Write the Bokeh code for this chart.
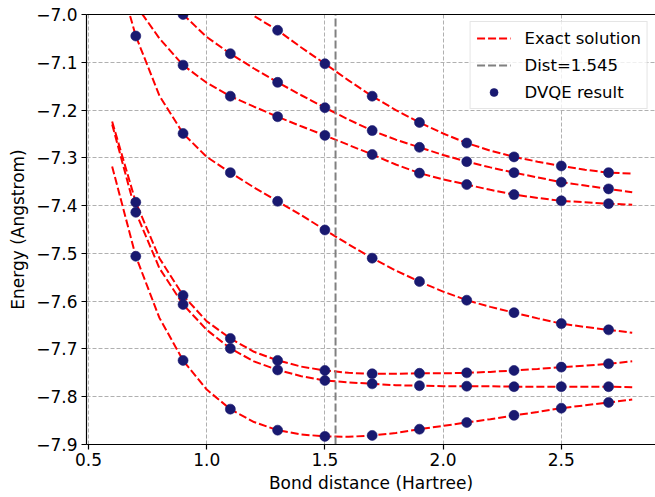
from bokeh.plotting import figure
from bokeh.models import Range1d, FixedTicker, LinearAxis, Legend, LegendItem
from bokeh.embed import file_html
from bokeh.resources import INLINE

NaN = float("nan")

# ---- data -------------------------------------------------------------
x_exact = [0.6, 0.7, 0.8, 0.9, 1.0, 1.1, 1.2, 1.3, 1.4, 1.5, 1.6, 1.7,
           1.8, 1.9, 2.0, 2.1, 2.2, 2.3, 2.4, 2.5, 2.6, 2.7, 2.8]

exact_s0 = [-7.318, -7.506, -7.635, -7.724, -7.785, -7.826, -7.853, -7.870,
            -7.879, -7.883, -7.884, -7.881, -7.876, -7.868, -7.861, -7.854,
            -7.847, -7.839, -7.832, -7.824, -7.818, -7.812, -7.806]
exact_s1 = [-7.224, -7.393, -7.510, -7.588, -7.642, -7.678, -7.706, -7.724,
            -7.737, -7.745, -7.750, -7.752, -7.752, -7.751, -7.751, -7.750,
            -7.748, -7.745, -7.742, -7.738, -7.735, -7.731, -7.726]
exact_s2 = [-7.230, -7.414, -7.531, -7.607, -7.660, -7.699, -7.726, -7.744,
            -7.757, -7.766, -7.770, -7.773, -7.776, -7.777, -7.778, -7.778,
            -7.778, -7.779, -7.779, -7.779, -7.779, -7.779, -7.780]
exact_s3 = [-6.870, -7.045, -7.170, -7.249, -7.298, -7.331, -7.362, -7.391,
            -7.420, -7.451, -7.481, -7.510, -7.536, -7.559, -7.580, -7.598,
            -7.612, -7.624, -7.636, -7.647, -7.654, -7.660, -7.666]
exact_s4 = [-6.850, -6.980, -7.050, -7.106, -7.143, -7.171, -7.193, -7.214,
            -7.234, -7.253, -7.273, -7.293, -7.314, -7.332, -7.345, -7.356,
            -7.367, -7.377, -7.384, -7.390, -7.393, -7.396, -7.398]
exact_s5 = [-6.740, -6.840, -6.930, -7.000, -7.047, -7.082, -7.113, -7.142,
            -7.169, -7.195, -7.220, -7.243, -7.262, -7.278, -7.294, -7.308,
            -7.320, -7.331, -7.341, -7.351, -7.358, -7.365, -7.372]
exact_s6 = [-6.600, -6.690, -6.780, -6.850, -6.910, -6.962, -7.003, -7.033,
            -7.069, -7.103, -7.138, -7.171, -7.200, -7.226, -7.249, -7.269,
            -7.285, -7.298, -7.308, -7.317, -7.325, -7.331, -7.333]

x_dvqe = [0.7, 0.9, 1.1, 1.3, 1.5, 1.7, 1.9, 2.1, 2.3, 2.5, 2.7]
dvqe_s0 = [-7.506, -7.724, -7.826, -7.870, -7.883, -7.881, -7.868, -7.854, -7.839, -7.824, -7.812]
dvqe_s1 = [-7.393, -7.588, -7.678, -7.724, -7.745, -7.752, -7.751, -7.750, -7.745, -7.738, -7.731]
dvqe_s2 = [-7.414, -7.607, -7.699, -7.744, -7.766, -7.773, -7.777, -7.778, -7.779, -7.779, -7.779]
dvqe_s3 = [-7.045, -7.249, -7.331, -7.391, -7.451, -7.510, -7.559, -7.598, -7.624, -7.647, -7.660]
dvqe_s4 = [NaN, -7.106, -7.171, -7.214, -7.253, -7.293, -7.332, -7.356, -7.377, -7.390, -7.396]
dvqe_s5 = [NaN, -7.000, -7.082, -7.142, -7.195, -7.243, -7.278, -7.308, -7.331, -7.351, -7.365]
dvqe_s6 = [NaN, NaN, NaN, -7.033, -7.103, -7.171, -7.226, -7.269, -7.298, -7.317, -7.331]

dist_value = 1.545

x_ticks = [0.5, 1.0, 1.5, 2.0, 2.5]
x_tick_labels = ["0.5", "1.0", "1.5", "2.0", "2.5"]
y_ticks = [-7.9, -7.8, -7.7, -7.6, -7.5, -7.4, -7.3, -7.2, -7.1, -7.0]
y_tick_labels = ["\u22127.9", "\u22127.8", "\u22127.7", "\u22127.6", "\u22127.5",
                 "\u22127.4", "\u22127.3", "\u22127.2", "\u22127.1", "\u22127.0"]

x_lo, x_hi = 0.4915, 2.8985
y_lo, y_hi = -7.9, -7.0

exact_series = [exact_s0, exact_s1, exact_s2, exact_s3, exact_s4, exact_s5, exact_s6]
dvqe_series = [dvqe_s0, dvqe_s1, dvqe_s2, dvqe_s3, dvqe_s4, dvqe_s5, dvqe_s6]

FONT = "DejaVu Sans"
FS = "17px"
FS_LEG = "16.5px"

# ---- figure -----------------------------------------------------------
p = figure(width=655, height=497, output_backend="svg", toolbar_location=None,
           x_range=Range1d(x_lo, x_hi), y_range=Range1d(y_lo, y_hi),
           min_border_left=86, min_border_right=0, min_border_top=14,
           min_border_bottom=53)
p.outline_line_color = None
p.background_fill_color = "white"
p.border_fill_color = "white"

# axes
p.xaxis.ticker = FixedTicker(ticks=x_ticks)
p.yaxis.ticker = FixedTicker(ticks=y_ticks)
p.xaxis.major_label_overrides = dict(zip(x_ticks, x_tick_labels))
p.yaxis.major_label_overrides = dict(zip(y_ticks, y_tick_labels))
for ax in (p.xaxis[0], p.yaxis[0]):
    ax.axis_line_color = "black"
    ax.axis_line_width = 1.2
    ax.major_tick_line_color = "black"
    ax.major_tick_line_width = 1.2
    ax.major_tick_out = 5
    ax.major_tick_in = 0
    ax.minor_tick_out = 0
    ax.minor_tick_in = 0
    ax.major_label_text_font = FONT
    ax.major_label_text_font_size = FS
    ax.major_label_text_color = "black"
    ax.axis_label_text_font = FONT
    ax.axis_label_text_font_size = FS
    ax.axis_label_text_font_style = "normal"
    ax.axis_label_text_color = "black"
p.xaxis.axis_label = "Bond distance (Hartree)"
p.yaxis.axis_label = "Energy (Angstrom)"
p.xaxis.major_label_standoff = 3
p.xaxis.axis_label_standoff = 4
p.yaxis.major_label_standoff = 4
p.yaxis.axis_label_standoff = 5

top_axis = LinearAxis(ticker=FixedTicker(ticks=[]), axis_line_color="black",
                      axis_line_width=1.2, major_tick_out=0, major_tick_in=0,
                      minor_tick_out=0, minor_tick_in=0,
                      major_label_text_font_size="0px", major_label_standoff=0)
p.add_layout(top_axis, "above")

# grid
for g in (p.xgrid[0], p.ygrid[0]):
    g.grid_line_color = "#b0b0b0"
    g.grid_line_width = 1
    g.grid_line_dash = "4 2"

# exact solution curves
exact_renderers = []
for ys in exact_series:
    r = p.line(x_exact, ys, line_color="red", line_width=2, line_dash="8 3")
    exact_renderers.append(r)

# distance marker line
r_dist = p.line([dist_value, dist_value], [y_lo, y_hi], line_color="gray",
                line_width=2, line_dash="8 3")

# DVQE points
dvqe_renderers = []
for ys in dvqe_series:
    r = p.scatter(x_dvqe, ys, size=10, marker="circle", fill_color="#191970",
                  line_color="#191970", line_alpha=0.6, line_width=1)
    dvqe_renderers.append(r)

legend = Legend(items=[
    LegendItem(label="Exact solution", renderers=[exact_renderers[0]]),
    LegendItem(label="Dist=1.545", renderers=[r_dist]),
    LegendItem(label="DVQE result", renderers=[dvqe_renderers[0]]),
], location="top_right")
legend.margin = 7
legend.padding = 6
legend.spacing = 7
legend.glyph_width = 34
legend.glyph_height = 20
legend.label_height = 20
legend.label_standoff = 14
legend.label_text_font = FONT
legend.label_text_font_size = FS_LEG
legend.label_text_color = "black"
legend.border_line_color = "#cccccc"
legend.border_line_width = 1
legend.background_fill_color = "white"
legend.background_fill_alpha = 0.8
p.add_layout(legend)

open("out.html", "w").write(file_html(p, INLINE))
